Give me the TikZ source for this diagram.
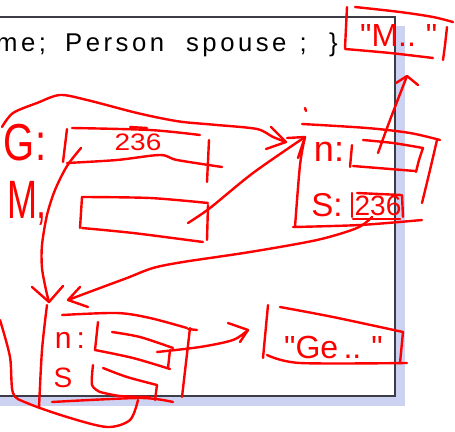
\documentclass[tikz,border=0pt]{standalone}
\usepackage{fontspec}
\setmainfont{Liberation Sans}
\newfontfamily\inkfont{Liberation Sans}
\usetikzlibrary{positioning}

\definecolor{slideshadow}{RGB}{204,211,242}
\definecolor{framegray}{RGB}{60,60,70}
\newcommand{\inksize}[1]{\inkfont\fontsize{#1}{#1}\selectfont}
\newcommand{\tallink}[2]{\scalebox{1}[#1]{#2}}
% wide tracking of the slide's code line
\newcommand{\trackit}[1]{\trackloop#1\relax}
\def\trackloop#1{\ifx\relax#1\else#1\kern3.5pt\expandafter\trackloop\fi}

\tikzset{
  ink/.style={red, line width=2.4pt, line cap=round, line join=round},
  inktext/.style={red, inner sep=0pt},
}

\begin{document}
\begin{tikzpicture}[x=1pt,y=-1pt]
\useasboundingbox (0,0) rectangle (455,431);
\clip (0,0) rectangle (455,431);

% slide frame and its shadow
\fill[slideshadow] (395,26) rectangle (405,406);
\fill[slideshadow] (0,396) rectangle (405,406);
\draw[framegray, line width=1.2pt] (0,17) -- (395,17) -- (395,396) -- (0,396);
\node[anchor=base west, inner sep=0pt, font=\fontsize{25.7}{30}\selectfont] (code) at (-4,51)
  {\trackit{me;}\hspace{15.7pt}\trackit{Person}\hspace{18.5pt}\trackit{spouse}\hspace{9.7pt}\trackit{;}\hspace{18.7pt}\}};

% labels in ink
\node[inktext, font=\inksize{40}] (glabel) at (25,143) {\tallink{1.3}{G:}};
\node[inktext, font=\inksize{36}] (mlabel) at (27,203) {\tallink{1.5}{M,}};
\node[inktext, font=\inksize{28}] (gval) at (138,142) {\tallink{0.85}{236}};
\node[inktext, font=\inksize{36}] (nlabel) at (329,152) {n:};
\node[inktext, font=\inksize{33}] (slabel) at (327,205) {S:};
\node[inktext, font=\inksize{28}] (sval) at (378,206) {236};
\node[inktext, font=\inksize{32}, anchor=base west] (mstring) at (360,46) {"M..\hspace{10pt}"};
\node[inktext, font=\inksize{32}, anchor=base west] (gestring) at (284,358) {"Ge\,..\hspace{10pt}"};
\node[inktext, font=\inksize{30}] (nlow) at (70,340) {n\,:};
\node[inktext, font=\inksize{28}] (slow) at (63,378) {S};

% ends of the arrows
\coordinate (toptip) at (286,142);
\coordinate (mtip) at (305,137);
\coordinate (gtip) at (49,302);
\coordinate (stip) at (68,300);
\coordinate (ntip) at (407,76);
\coordinate (getip) at (248,330);

% G field
\draw[ink] (67,129) -- (63,162);
\draw[ink] plot[smooth] coordinates {(72,128) (150,130) (200,135)};
\draw[ink] (130,127) -- (147,128);
\draw[ink] plot[smooth] coordinates {(67,163) (117,160) (160,155) (177,160) (222,167)};
\draw[ink] (209,140) -- (207,182);

% M field
\draw[ink] (82,197) -- (80,228);
\draw[ink] plot[smooth] coordinates {(82,197) (150,198) (208,203)};
\draw[ink] plot[smooth] coordinates {(82,228) (133,233) (203,242)};
\draw[ink] (208,205) -- (207,240);

% big curve over the top
\draw[ink] plot[smooth] coordinates {(2,127) (13,113) (37,103) (60,95) (87,100) (133,112) (160,118) (183,122) (217,125) (257,129) (273,137) (toptip)};
\draw[ink] (271,127) -- (toptip) -- (266,149);

% M field to the person box
\draw[ink] plot[smooth] coordinates {(188,223) (210,208) (253,173) (mtip)};
\draw[ink] (287,138) -- (mtip) -- (298,158);

% person box at the right
\draw[ink] (305,108) -- (306,111);
\draw[ink] plot[smooth] coordinates {(302,124) (367,128) (410,133) (440,140)};
\draw[ink] plot[smooth] coordinates {(437,140) (430,170) (422,203)};
\draw[ink] plot[smooth] coordinates {(mtip) (300,165) (295,227)};
\draw[ink] plot[smooth] coordinates {(293,227) (360,225) (422,220)};
\draw[ink] (352,145) -- (350,167);
\draw[ink] plot[smooth] coordinates {(363,140) (393,143) (423,148)};
\draw[ink] plot[smooth] coordinates {(423,148) (419,160) (416,172)};
\draw[ink] (353,166) -- (415,171);
\draw[ink] (352,193) -- (352,217);
\draw[ink] (357,193) -- (401,195);
\draw[ink] (402,195) -- (403,217);
\draw[ink] (353,219) -- (400,219);

% n field up to the string
\draw[ink] plot[smooth] coordinates {(378,153) (390,120) (ntip)};
\draw[ink] (396,83) -- (ntip) -- (418,85);

% string box at the top
\draw[ink] (347,7) -- (345,48);
\draw[ink] plot[smooth] coordinates {(355,7) (400,12) (433,17) (453,22)};
\draw[ink] plot[smooth] coordinates {(345,49) (390,53) (433,58)};
\draw[ink] plot[smooth] coordinates {(447,27) (445,45) (443,60)};

% G field down to the lower box
\draw[ink] plot[smooth] coordinates {(81,148) (67,166) (55,190) (47,215) (42,245) (42,268) (46,290) (gtip)};
\draw[ink] (32,287) -- (gtip) -- (63,286);

% spouse value down to the lower box
\draw[ink] plot[smooth] coordinates {(372,217) (357,228) (317,240) (250,252) (183,262) (153,268) (127,278) (100,288) (stip)};
\draw[ink] (80,287) -- (stip) -- (88,307);

% lower box
\draw[ink] plot[smooth] coordinates {(47,305) (42,350) (39,408)};
\draw[ink] plot[smooth] coordinates {(62,315) (117,313) (150,318) (187,328)};
\draw[ink] (188,329) -- (197,330);
\draw[ink] (190,328) -- (182,397);
\draw[ink] plot[smooth] coordinates {(0,320) (10,357) (13,393) (27,403) (67,417) (107,427) (130,420) (138,400)};
\draw[ink] plot[smooth] coordinates {(52,402) (140,398) (173,402)};
\draw[ink] plot[smooth] coordinates {(98,322) (95,350)};
\draw[ink] plot[smooth] coordinates {(95,350) (133,358) (170,369)};
\draw[ink] plot[smooth] coordinates {(112,332) (140,337) (173,348)};
\draw[ink] (170,350) -- (168,368);
\draw[ink] plot[smooth] coordinates {(93,365) (92,385) (100,392)};
\draw[ink] plot[smooth] coordinates {(103,368) (127,377) (157,385)};
\draw[ink] (157,385) -- (155,400);
\draw[ink] plot[smooth] coordinates {(100,392) (120,396) (150,397)};

% n field to the other string
\draw[ink] plot[smooth] coordinates {(157,352) (200,347) (233,340) (getip)};
\draw[ink] (228,323) -- (getip) -- (240,342);

% string box at the bottom
\draw[ink] (268,305) -- (263,358);
\draw[ink] plot[smooth] coordinates {(280,307) (333,317) (403,332)};
\draw[ink] (403,332) -- (400,363);
\draw[ink] plot[smooth] coordinates {(267,355) (300,363) (407,363)};
\end{tikzpicture}
\end{document}
